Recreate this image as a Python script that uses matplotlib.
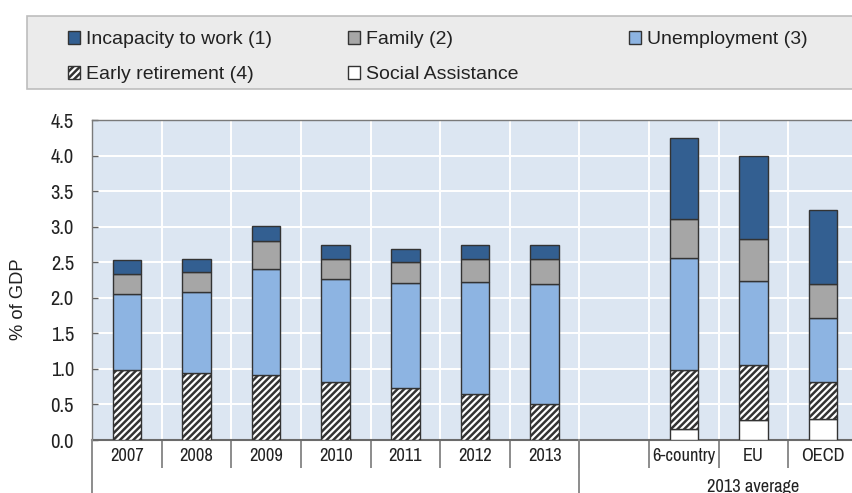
import matplotlib
matplotlib.use('Agg')
import matplotlib.pyplot as plt
import numpy as np
from matplotlib import font_manager
from matplotlib.font_manager import FontProperties
from matplotlib.textpath import TextPath
from matplotlib.patches import Rectangle
from matplotlib.transforms import blended_transform_factory

# ---------------- data ----------------
categories = ['2007', '2008', '2009', '2010', '2011', '2012', '2013', '',
              '6-country', 'EU', 'OECD']
social_assistance = [0, 0, 0, 0, 0, 0, 0, 0, 0.15, 0.28, 0.30]
early_retirement = [0.98, 0.94, 0.92, 0.81, 0.73, 0.64, 0.50, 0, 0.83, 0.77, 0.52]
unemployment = [1.07, 1.14, 1.49, 1.45, 1.48, 1.58, 1.70, 0, 1.58, 1.18, 0.89]
family = [0.29, 0.28, 0.39, 0.28, 0.29, 0.33, 0.34, 0, 0.55, 0.60, 0.48]
incapacity = [0.19, 0.19, 0.21, 0.20, 0.19, 0.19, 0.20, 0, 1.13, 1.16, 1.05]
group_label = '2013 average'
y_ticks = [0.0, 0.5, 1.0, 1.5, 2.0, 2.5, 3.0, 3.5, 4.0, 4.5]

# ---------------- fonts ----------------
ttf = font_manager.fontManager.ttflist
names = {f.name for f in ttf}


def has_regular(name):
    return any(f.name == name and f.style == 'normal' and f.weight in (400, 'normal', 'regular')
               for f in ttf)


regular = 'Liberation Sans' if 'Liberation Sans' in names else 'DejaVu Sans'
candidates = ['Liberation Sans Narrow', 'Arial Narrow', 'PT Sans Narrow', 'Roboto Condensed',
              'Archivo Narrow', 'Fira Sans Condensed', 'IBM Plex Sans Condensed',
              'Encode Sans Condensed', 'Liberation Sans']
candidates = [c for c in candidates if c in names and has_regular(c)] or [regular]


def ink(text, family, size=10.0):
    ext = TextPath((0, 0), text, prop=FontProperties(family=family, size=size,
                                                     weight='normal')).get_extents()
    return ext.width * 100 / 72, ext.height * 100 / 72   # pixels at dpi 100


# pick the narrow face whose proportions best match the reference year labels (32 x 13 px)
target_ratio = 32 / 13.2


def ratio_err(c):
    w, h = ink('2007', c)
    return abs(np.log((w / h) / target_ratio))


narrow = min(candidates, key=ratio_err)


def fit(text, family, w_px, h_px):
    w, h = ink(text, family)
    return 10 * 0.5 * (w_px / w + h_px / h)


xlab_size = fit('2007', narrow, 32, 13.2)
ytick_size = fit('4.5', narrow, 23, 14)

plt.rcParams['font.family'] = [regular, 'DejaVu Sans']
plt.rcParams['hatch.linewidth'] = 1.8

W, H = 853, 493
fig = plt.figure(figsize=(W / 100, H / 100), dpi=100)
fig.patch.set_facecolor('white')

# axes placement in pixels
ax_l, ax_r, ax_t, ax_b = 92, 858, 120, 440
ax = fig.add_axes([ax_l / W, 1 - ax_b / H, (ax_r - ax_l) / W, (ax_b - ax_t) / H])
ax.set_facecolor('#DCE6F2')

x = np.arange(len(categories))
width = 0.41
edge = '#333333'

series = [
    ('Social Assistance', social_assistance, dict(color='white')),
    ('Early retirement (4)', early_retirement, dict(color='white', hatch='/////')),
    ('Unemployment (3)', unemployment, dict(color='#8DB4E2')),
    ('Family (2)', family, dict(color='#A6A6A6')),
    ('Incapacity to work (1)', incapacity, dict(color='#335F91')),
]
bottom = np.zeros(len(categories))
handles = {}
for name, vals, style in series:
    v = np.array(vals, dtype=float)
    m = v > 0
    bc = ax.bar(x[m], v[m], width, bottom=bottom[m], edgecolor=edge, linewidth=1.0,
                label=name, zorder=3, **style)
    handles[name] = bc
    bottom += v

ax.set_xlim(-0.5, len(categories) - 0.5)
ax.set_ylim(0, 4.5)
ax.set_yticks(y_ticks)
ax.set_yticklabels([f'{t:.1f}' for t in y_ticks], fontfamily=narrow, fontweight='normal',
                   fontsize=ytick_size, color='#222222')
ax.tick_params(axis='y', direction='in', length=4, width=1, color='#606060', pad=13)

ax.set_xticks(x)
ax.set_xticklabels(categories, fontfamily=narrow, fontweight='normal', fontsize=xlab_size,
                   color='#222222')
ax.tick_params(axis='x', which='major', length=0, pad=6.0)
ax.set_xticks(np.arange(0.5, len(categories) - 0.5 + 1, 1), minor=True)
ax.tick_params(axis='x', which='minor', direction='out', length=20, width=1.4,
               color='#8C8C8C')

ax.grid(axis='y', which='major', color='white', linewidth=1.4, zorder=0)
ax.grid(axis='x', which='minor', color='white', linewidth=1.4, zorder=0)
ax.set_axisbelow(True)

for s in ['left', 'bottom', 'top', 'right']:
    ax.spines[s].set_color('#7A7A7A')
    ax.spines[s].set_linewidth(1.0)
ax.spines['bottom'].set_linewidth(1.5)
ax.spines['bottom'].set_color('#6A6A6A')

# long separators (left edge and before the average group)
trans = blended_transform_factory(ax.transData, ax.transAxes)
for xs in [-0.5, 6.5]:
    ax.plot([xs, xs], [0, -0.2], transform=trans, color='#8C8C8C', lw=1.4,
            clip_on=False, zorder=5)

ax.text(9, -(492 - ax_b) / (ax_b - ax_t), group_label, transform=trans,
        ha='center', va='baseline', fontfamily=narrow, fontweight='normal',
        fontsize=xlab_size, color='#222222')

fig.text(18.5 / W, 1 - 299 / H, '% of GDP', rotation=90, ha='center', va='center',
         fontsize=13.2, color='#222222')

# legend background box
fig.patches.append(Rectangle((27 / W, 1 - 89 / H), (W + 10 - 27) / W, (89 - 16) / H,
                             transform=fig.transFigure, facecolor='#EBEBEB',
                             edgecolor='#BDBDBD', linewidth=1.2, zorder=0))

leg_kw = dict(frameon=False, fontsize=14, handlelength=0.62, handleheight=0.67,
              handletextpad=0.3, labelspacing=0.9, borderpad=0, borderaxespad=0,
              loc='upper left')
columns = [
    (68, ['Incapacity to work (1)', 'Early retirement (4)']),
    (348, ['Family (2)', 'Social Assistance']),
    (629, ['Unemployment (3)']),
]
for cx, labs in columns:
    lg = fig.legend([handles[l] for l in labs], labs,
                    bbox_to_anchor=(cx / W, 1 - 31 / H), bbox_transform=fig.transFigure,
                    **leg_kw)
    for t in lg.get_texts():
        t.set_color('#222222')

fig.savefig('out.png', dpi=100)
